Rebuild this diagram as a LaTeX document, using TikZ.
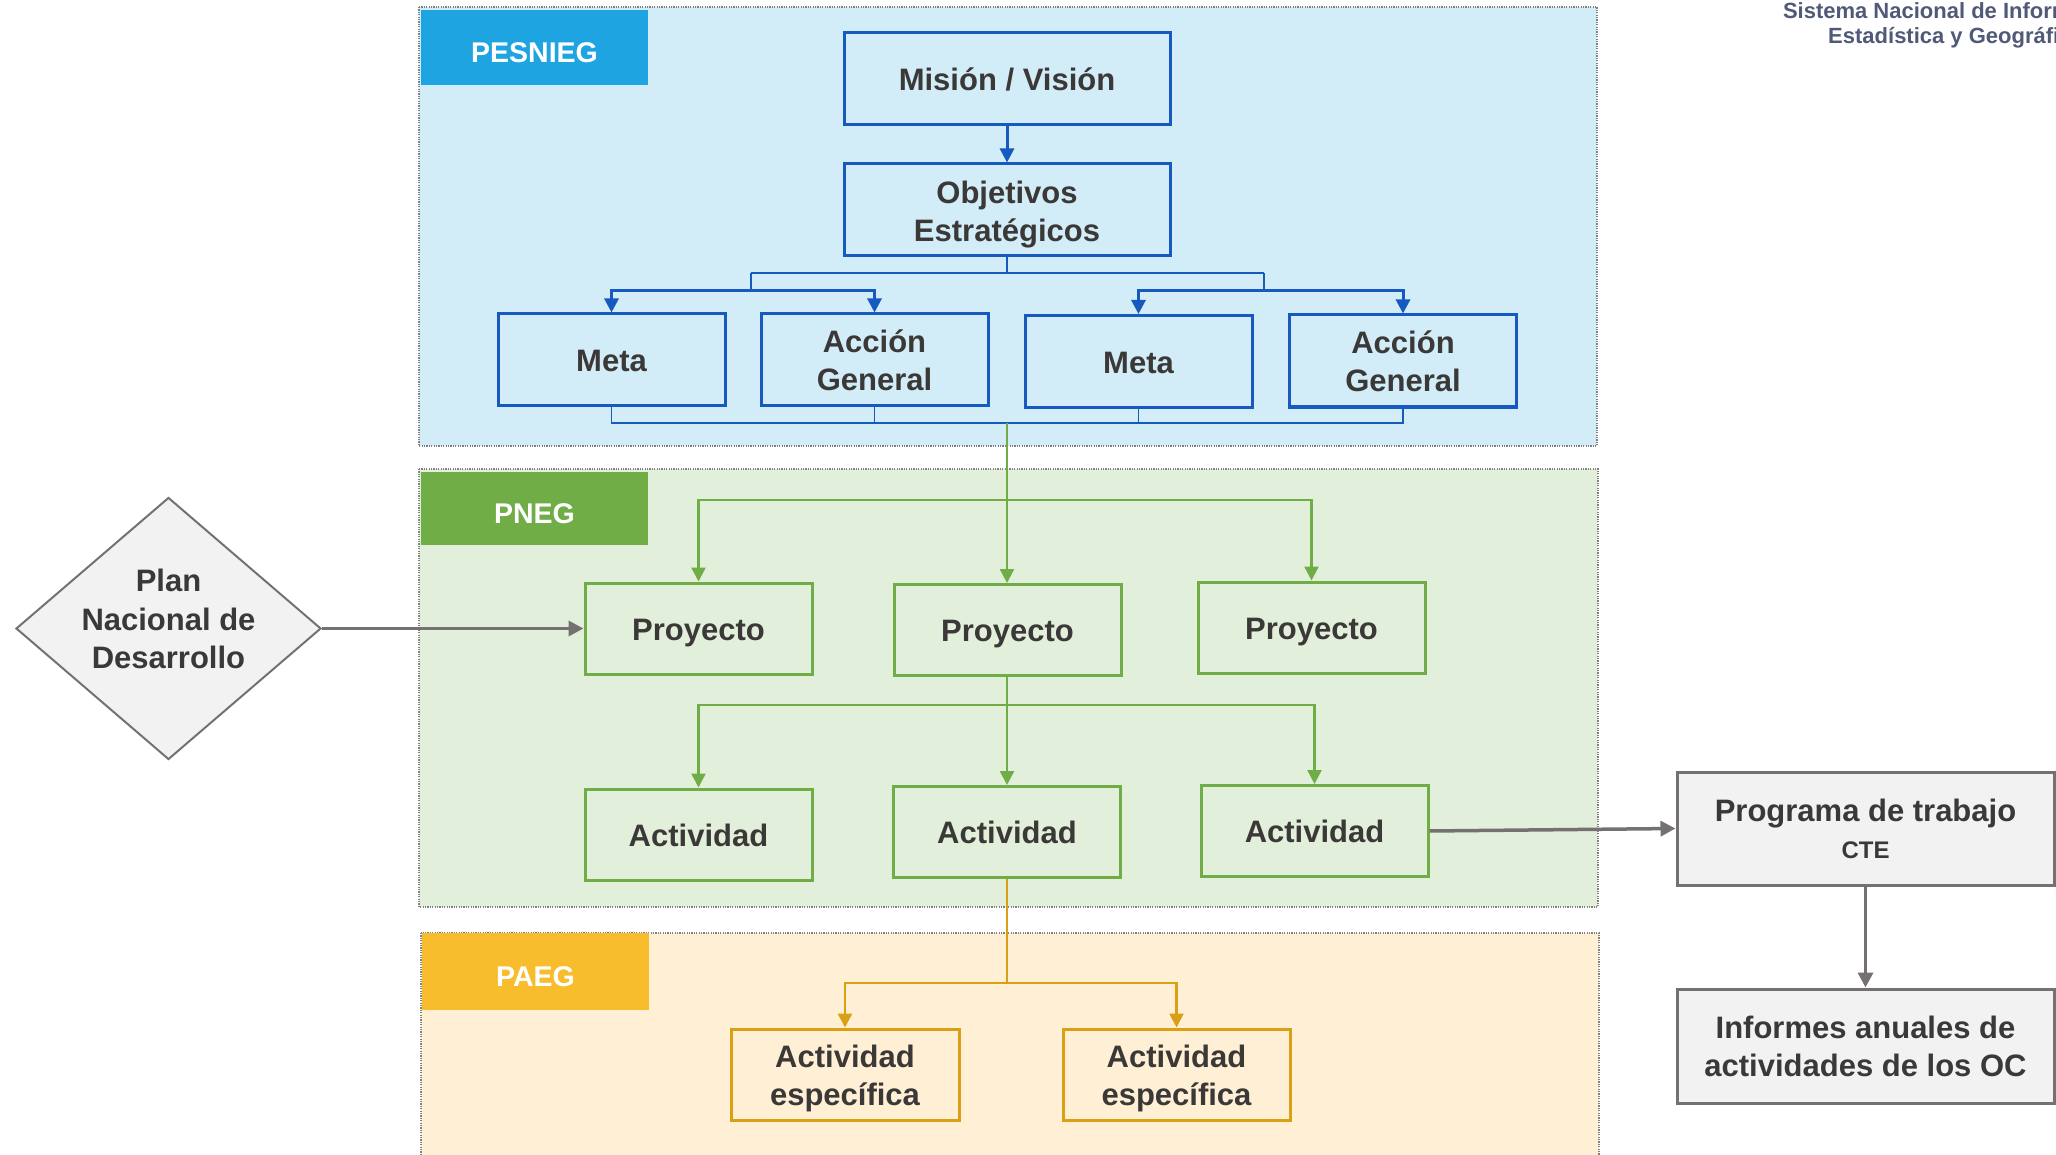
\documentclass[tikz,border=0pt]{standalone}
\usepackage{fontspec}
\setmainfont{Liberation Sans}
\usetikzlibrary{arrows.meta,shapes.geometric}
\definecolor{txt}{RGB}{59,56,56}
\definecolor{hdrc}{RGB}{80,90,120}
\definecolor{pesbg}{RGB}{210,236,248}
\definecolor{peslab}{RGB}{30,165,225}
\definecolor{bl}{RGB}{22,90,192}
\definecolor{pnebg}{RGB}{226,239,218}
\definecolor{gr}{RGB}{112,173,71}
\definecolor{paebg}{RGB}{255,240,213}
\definecolor{paelab}{RGB}{248,189,45}
\definecolor{orc}{RGB}{218,160,20}
\definecolor{gline}{RGB}{118,113,113}
\definecolor{gfill}{RGB}{242,242,242}
\definecolor{dotc}{RGB}{128,128,128}
\newcommand\mystr{\rule{0pt}{30pt}}
\begin{document}
\begin{tikzpicture}[x=1pt,y=-1pt,
  panel/.style={draw=dotc, line width=1.5pt, dash pattern=on 1.2pt off 1.2pt},
  labbox/.style={minimum width=227pt, minimum height=75pt, inner sep=0pt, draw=none},
  labtext/.style={text=white, font=\bfseries\fontsize{28.5}{32}\selectfont, inner sep=0pt},
  tbox/.style={draw, line width=3pt, minimum width=227pt, minimum height=91pt, inner sep=0pt,
    align=center, text=txt, font=\bfseries\fontsize{31}{38}\selectfont,
    execute at begin node={\rule{0pt}{\dimexpr0.905em+2pt\relax}},
    execute at end node={\rule[-0.212em]{0pt}{0.212em}}},
  bbox/.style={tbox, draw=bl},
  gbox/.style={tbox, draw=gr},
  obox/.style={tbox, draw=orc},
  xbox/.style={tbox, draw=gline, fill=gfill, minimum width=377pt},
  bthin/.style={draw=bl, line width=1.5pt},
  barrow/.style={draw=bl, line width=3pt, -{Triangle[length=14pt,width=14pt]}},
  gln/.style={draw=gr, line width=2.5pt},
  garrow/.style={gln, -{Triangle[length=14pt,width=14pt]}},
  oln/.style={draw=orc, line width=2.5pt},
  oarrow/.style={oln, -{Triangle[length=14pt,width=14pt]}},
  xarrow/.style={draw=gline, line width=3.5pt, -{Triangle[length=15pt,width=15pt]}},
  hdr/.style={text=hdrc, align=center, font=\bfseries\fontsize{22}{25}\selectfont, inner sep=0pt}
]
\useasboundingbox (0,0) rectangle (2056,1155);

% panels
\draw[panel, fill=pesbg] (419,7) rectangle (1597,446);
\draw[panel, fill=pnebg] (419,469) rectangle (1598,907);
\draw[panel, fill=paebg] (421,933) rectangle (1599,1170);

% panel labels
\node[labbox, fill=peslab] (lpes) at (534.5,47.5) {};
\node[labtext] (tpes) at (534.5,53) {PESNIEG};
\node[labbox, fill=gr, minimum height=73pt] (lpne) at (534.5,508.5) {};
\node[labtext] (tpne) at (534.5,514) {PNEG};
\node[labbox, fill=paelab, minimum height=77pt] (lpae) at (535.5,971.5) {};
\node[labtext] (tpae) at (535.5,977) {PAEG};

% header
\node[hdr] (hdr) at (1956,25) {Sistema Nacional de Información\\Estadística y Geográfica};

% PESNIEG boxes
\node[bbox, minimum width=326pt, minimum height=92pt] (mision) at (1007,79) {Misión / Visión};
\node[bbox, minimum width=326pt, minimum height=92pt] (obj) at (1007,210) {\rule{0pt}{32pt}Objetivos\\Estratégicos};
\node[bbox, minimum height=92pt] (meta1) at (611.5,360) {Meta};
\node[bbox, minimum height=92pt] (acc1) at (874.5,360) {\mystr Acción\\General};
\node[bbox, minimum height=92pt] (meta2) at (1138.5,361.5) {Meta};
\node[bbox, minimum height=92pt] (acc2) at (1403,361) {\mystr Acción\\General};

% PNEG boxes
\node[gbox] (p1) at (698.5,628.5) {Proyecto};
\node[gbox] (p2) at (1007.5,630) {Proyecto};
\node[gbox] (p3) at (1311.5,627.5) {Proyecto};
\node[gbox] (a1) at (698.5,834.5) {Actividad};
\node[gbox] (a2) at (1007,832) {Actividad};
\node[gbox] (a3) at (1314.5,831) {Actividad};

% PAEG boxes
\node[obox, minimum width=228pt] (ae1) at (845,1074.5) {\mystr Actividad\\específica};
\node[obox] (ae2) at (1176.5,1074.5) {\mystr Actividad\\específica};

% diamond
\node[diamond, draw=gline, fill=gfill, line width=2pt, minimum width=305pt, minimum height=262pt,
  inner sep=0pt] (pnd) at (168.5,628.5) {};
\node[text=txt, align=center, inner sep=0pt, font=\bfseries\fontsize{31}{38.5}\selectfont] (pndt) at (168.5,619) {Plan\\Nacional de\\Desarrollo};

% right boxes
\node[xbox, minimum height=113pt] (prog) at (1865.5,828.5) {\mystr Programa de trabajo\\[-1pt]{\fontsize{24}{30}\selectfont CTE}};
\node[xbox, minimum height=114pt] (inf) at (1865.5,1046) {\mystr Informes anuales de\\actividades de los OC};

% blue connectors
\draw[barrow] (mision) -- (obj);
\coordinate (oj) at (1007,273);
\coordinate (ol) at (751,273);
\coordinate (or) at (1264,273);
\coordinate (olj) at (751,291);
\coordinate (orj) at (1264,291);
\draw[bthin] (obj.south) -- (oj);
\draw[bthin] (ol) -- (or);
\draw[bthin] (ol) -- (olj);
\draw[bthin] (or) -- (orj);
\draw[barrow] (olj) -| (meta1.north);
\draw[barrow] (olj) -| (acc1.north);
\draw[barrow] (orj) -| (meta2.north);
\draw[barrow] (orj) -| (acc2.north);
\coordinate (mb) at (1007,423);
\draw[bthin] (meta1.south) |- (mb);
\draw[bthin] (mb) -| (acc2.south);
\draw[bthin] (acc1.south) -- (acc1.south |- mb);
\draw[bthin] (meta2.south) -- (meta2.south |- mb);

% green connectors
\coordinate (gj) at (1007,500);
\draw[gln] (mb) -- (gj);
\draw[garrow] (gj) -| (p1.north);
\draw[garrow] (gj) -| (p3.north);
\draw[garrow] (gj) -- (gj |- p2.north);
\coordinate (gj2) at (1007,705);
\draw[gln] (p2.south -| gj2) -- (gj2);
\draw[garrow] (gj2) -| (a1.north);
\draw[garrow] (gj2) -| (a3.north);
\draw[garrow] (gj2) -- (a2.north);

% orange connectors
\coordinate (oj2) at (1007,983);
\draw[oln] (a2.south) -- (oj2);
\draw[oarrow] (oj2) -| (ae1.north);
\draw[oarrow] (oj2) -| (ae2.north);

% gray connectors
\draw[xarrow] (pnd.east) -- (p1.west);
\draw[xarrow] (a3.east) -- (prog.west);
\draw[xarrow] (prog.south) -- (inf.north);
\end{tikzpicture}
\end{document}
